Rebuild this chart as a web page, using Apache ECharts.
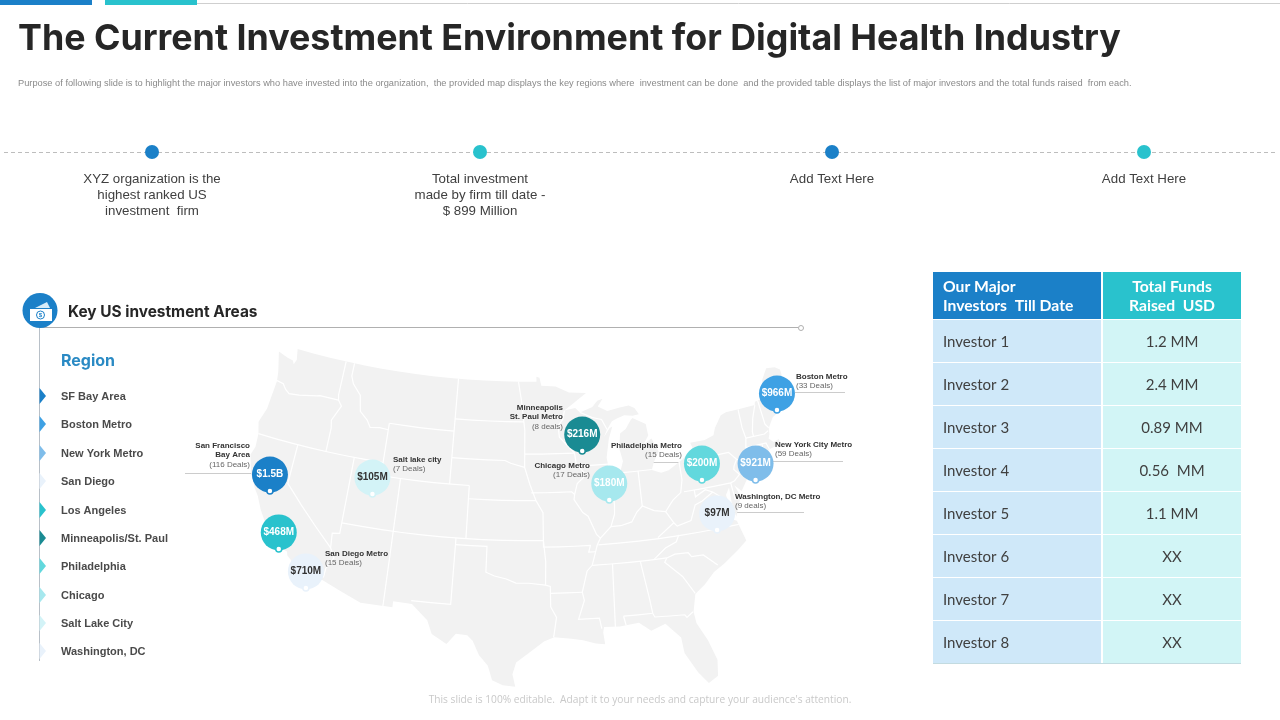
<!DOCTYPE html>
<html>
<head>
<meta charset="utf-8">
<title>Digital Health Investment</title>
<style>
  html, body { margin: 0; padding: 0; background: #fff; }
  #chart { width: 1280px; height: 720px; }
</style>
<script src="https://cdn.jsdelivr.net/npm/echarts@6/dist/echarts.min.js"></script>
</head>
<body>
<div id="chart"></div>
<script>
// --- slide data ---
var titleText = 'The Current Investment Environment for Digital Health Industry';
var subtitleText = 'Purpose of following slide is to highlight the major investors who have invested into the organization,  the provided map displays the key regions where  investment can be done  and the provided table displays the list of major investors and the total funds raised  from each.';
var footerText = "This slide is 100% editable.  Adapt it to your needs and capture your audience's attention.";
var timelineTexts = [
  'XYZ organization is the\nhighest ranked US\ninvestment  firm',
  'Total investment\nmade by firm till date -\n$ 899 Million',
  'Add Text Here',
  'Add Text Here'
];

var regionNames = ['SF Bay Area', 'Boston Metro', 'New York Metro', 'San Diego', 'Los Angeles',
  'Minneapolis/St. Paul', 'Philadelphia', 'Chicago', 'Salt Lake City', 'Washington, DC'];
var regionFunds = ['$1.5B', '$966M', '$921M', '$710M', '$468M', '$216M', '$200M', '$180M', '$105M', '$97M'];
var regionLon = [-121.5, -69.36, -73.32, -116.1, -119.3, -90.4, -78.55, -88.0, -111.6, -78.0];
var regionLat = [38.1, 44.19, 39.51, 31.66, 34.06, 43.62, 40.35, 39.79, 39.53, 36.46];
var regionColors = ['#1b80c8', '#3ea1e4', '#7fbdea', '#e9f2fb', '#29c2cd', '#1a8b93', '#62d8dd', '#a6e8ee', '#d3f3f7', '#e9f2fb'];
var darkLabelRegions = ['San Diego', 'Salt Lake City', 'Washington, DC'];

var calloutNames = ['San Francisco\nBay Area', 'Boston Metro', 'New York City Metro', 'San Diego Metro',
  'Minneapolis\nSt. Paul Metro', 'Philadelphia Metro', 'Chicago Metro', 'Salt lake city', 'Washington, DC Metro'];
var calloutDeals = ['(116 Deals)', '(33 Deals)', '(59 Deals)', '(15 Deals)', '(8 deals)', '(15 Deals)', '(17 Deals)', '(7 Deals)', '(9 deals)'];

var tableHeaders = ['Our Major\nInvestors  Till Date', 'Total Funds\nRaised  USD'];
var investors = ['Investor 1', 'Investor 2', 'Investor 3', 'Investor 4', 'Investor 5', 'Investor 6', 'Investor 7', 'Investor 8'];
var investorFunds = ['1.2 MM', '2.4 MM', '0.89 MM', '0.56  MM', '1.1 MM', 'XX', 'XX', 'XX'];

// lower 48 outline, lon/lat
var usaOutline = [[-124.7,48.4],[-123.6,48.15],[-122.9,48.05],[-122.7,47.8],[-122.5,48.2],[-122.75,49],[-95.15,49],[-95.15,49.38],[-94.8,49.3],[-94.6,48.7],[-93,48.6],[-91.5,48.1],[-89.6,48],
  [-92.1,46.75],[-90.9,46.9],[-90.4,46.55],[-89,46.9],[-88.4,47.35],[-87.8,47.47],[-88.4,46.9],[-87.4,46.5],[-86,46.67],[-85,46.75],[-84.4,46.5],[-84,46],[-84.7,45.95],[-85.6,46.05],[-86.5,45.85],[-87,45.7],[-87.6,45.1],[-88,44.55],[-87.3,45.2],[-87,45.3],[-87.5,44.4],[-87.9,43],[-87.8,42.3],[-87.55,41.75],[-87.2,41.65],[-86.6,41.9],[-86.25,42.6],[-86.5,43.6],[-86.25,44.7],[-85.6,45],[-85,45.6],[-84.75,45.78],[-83.4,45.2],[-83.3,44.3],[-83.9,43.7],[-83,44.05],[-82.45,43],[-83.1,42.25],[-83.4,41.7],[-82.5,41.4],[-81.7,41.5],[-80.1,42.15],[-78.9,42.85],[-79.05,43.27],[-77.5,43.28],[-76.5,43.5],[-76.2,44],[-75.3,44.85],[-74.7,45],[-71.5,45],[-71.4,45.25],[-70.85,45.3],[-70.3,45.9],[-70,46.7],[-69.23,47.46],[-68.3,47.35],[-67.8,47.07],[-67.8,45.7],[-67.45,45.3],[-67,44.85],[-68.5,44.3],[-70,43.75],[-70.7,43.05],[-70.8,42.6],[-71,42.3],[-70.6,41.95],[-70,42.05],[-69.95,41.7],[-71.2,41.5],[-71.9,41.3],[-73.65,40.95],[-72.3,41.15],[-71.9,41.05],[-73.9,40.55],[-74,40.4],[-74.1,39.75],[-74.9,38.95],[-75.5,39.5],[-75.1,38.6],[-75.95,37.15],[-76.1,38.3],[-76.05,39.4],[-76.5,38.9],[-76.35,38],[-76.3,37],[-75.98,36.85],[-75.5,35.25],[-76.5,34.65],[-77.9,33.9],[-79,33.4],[-80,32.6],[-81,32],[-81.4,30.7],[-81.3,29.8],[-80.55,28.4],[-80.03,26.8],[-80.2,25.6],[-81.05,25.15],[-81.8,26.1],[-82.7,27.7],[-82.8,28.9],[-84,30.1],[-85.3,29.7],[-86.3,30.4],[-88,30.25],[-89.4,30.3],[-89.5,29.9],[-89.4,29],[-90.2,29.1],[-91.3,29.4],[-92.3,29.55],[-93.8,29.7],[-94.7,29.4],[-95.9,28.6],[-97.1,27.8],[-97.4,26.9],[-97.15,25.95],[-98.2,26.05],[-99.1,26.4],[-99.5,27.5],[-100.3,28.3],[-100.9,29.35],[-101.4,29.75],[-102.4,29.8],[-103.15,28.98],[-104.5,29.65],[-105,30.65],[-106.5,31.75],[-108.2,31.78],[-108.2,31.33],[-111.07,31.33],[-114.8,32.5],[-117.12,32.53],[-117.3,33],[-118.4,33.75],[-118.5,34.02],[-119.2,34.15],[-120.6,34.55],[-120.7,35.2],[-121.9,36.6],[-122.5,37.5],[-123,38],[-123.75,39],[-124.35,40.3],[-124.1,41],[-124.2,42],[-124.55,42.85],[-124.1,44],[-123.95,46.2],[-124.1,46.9],[-124.7,48.4]];

// state borders, lon/lat
var stateBorders = [
  [[-124,46.25],[-123.2,46.15],[-122.8,45.8],[-122.3,45.55],[-121.2,45.65],[-119.3,45.93],[-119,46],[-116.92,46]],
  [[-117.03,49],[-117.04,46.4],[-116.92,46],[-116.47,45.6],[-117.2,44.4],[-117.03,43.8],[-117.03,42]],
  [[-124.2,42],[-111.05,42]],
  [[-116.05,49],[-116.05,48],[-115.7,47.45],[-114.7,46.7],[-114.35,45.5],[-113.45,44.95],[-113,44.45],[-112,44.55],[-111.05,44.5]],
  [[-111.05,45],[-111.05,41]],
  [[-111.05,45],[-104.05,45]],
  [[-111.05,41],[-102.05,41]],
  [[-104.05,49],[-104.05,41]],
  [[-104.05,45.94],[-96.56,45.94]],
  [[-104.05,43],[-98.5,43],[-97.9,42.8],[-96.45,42.5]],
  [[-102.05,41],[-102.05,37]],
  [[-102.05,40],[-95.3,40]],
  [[-120,42],[-120,39],[-114.63,35],[-114.15,34.3],[-114.7,33.4],[-114.75,32.7]],
  [[-114.63,35],[-114.75,36.1],[-114.05,36.2],[-114.05,42]],
  [[-114.05,37],[-94.62,37]],
  [[-109.05,41],[-109.05,31.33]],
  [[-103,37],[-103.04,32],[-106.6,32]],
  [[-103,36.5],[-100,36.5],[-100,34.56],[-99.2,34.3],[-98.1,34.1],[-97.2,33.8],[-96,33.8],[-94.5,33.65],[-94.05,33.55],[-94.05,32],[-93.55,31.2],[-93.75,30.2],[-93.85,29.7]],
  [[-94.62,37],[-94.43,35.4],[-94.48,33.64]],
  [[-94.05,33.02],[-91.15,33.02]],
  [[-95.3,40],[-94.62,39.1],[-94.62,36.5],[-90.15,36.5],[-90.35,36],[-89.7,36]],
  [[-97.2,49],[-96.85,47.6],[-96.56,45.94],[-96.45,45.3],[-96.45,42.5],[-95.9,41.2],[-95.3,40]],
  [[-96.45,43.5],[-91.22,43.5]],
  [[-95.77,40.58],[-91.7,40.6],[-91.42,40.38]],
  [[-92.1,46.75],[-92.3,46.1],[-92.85,45.6],[-92.75,44.75],[-91.22,43.5],[-91.1,42.7],[-90.15,41.8],[-91.1,41.2],[-91.42,40.38],[-91.5,40],[-90.7,39],[-90.2,38.7],[-89.5,37.3],[-89.15,37],[-89.5,36.5],[-89.7,36],[-90.1,35],[-90.6,34.6],[-91.15,33.02],[-91,32.4],[-91.6,31],[-89.75,31],[-89.6,30.2]],
  [[-90.65,42.5],[-87.8,42.5]],
  [[-90.4,46.55],[-89.1,46.1],[-88.1,45.9],[-87.6,45.1]],
  [[-87.53,41.7],[-87.53,39.35],[-87.6,38.7],[-88.05,37.8]],
  [[-89.15,37],[-88.05,37.8],[-87.1,37.8],[-86,38],[-85.4,38.7],[-84.8,39.1],[-83.7,38.65],[-82.6,38.45],[-82,39],[-81.7,39.25],[-80.85,39.7],[-80.52,40.64],[-80.52,41.98]],
  [[-84.81,39.1],[-84.81,41.76]],
  [[-87,41.76],[-83.4,41.73]],
  [[-79.76,42.27],[-79.76,42],[-75.35,42],[-74.7,41.36],[-75.1,40.9],[-75.2,40.65],[-74.75,40.2],[-75.4,39.8]],
  [[-74.7,41.36],[-73.9,41]],
  [[-80.52,39.72],[-75.79,39.72],[-75.4,39.8]],
  [[-75.79,39.72],[-75.7,38.46],[-75.05,38.45]],
  [[-79.48,39.72],[-79.48,39.2],[-78.4,39.6],[-77.72,39.32],[-77.1,38.9],[-77.3,38.4],[-76.3,38]],
  [[-77.72,39.32],[-78.9,38.8],[-79.65,38.6],[-80.3,37.5],[-81.7,37.25],[-81.97,37.54],[-82.6,38.45]],
  [[-81.97,37.54],[-83.68,36.6]],
  [[-75.87,36.55],[-89.4,36.5]],
  [[-81.68,36.59],[-82,36.1],[-83.1,35.75],[-84.32,35]],
  [[-90.1,35],[-83.1,35],[-82.3,35.2],[-81.05,35.15],[-80.8,34.82],[-79.7,34.8],[-78.55,33.86]],
  [[-88.2,35],[-88.4,30.25]],
  [[-85.6,35],[-85.15,32.2],[-85,31],[-84.86,30.7],[-82.2,30.57],[-82.05,30.35],[-81.45,30.7]],
  [[-87.6,31],[-85,31]],
  [[-87.6,31],[-87.45,30.3]],
  [[-83.1,35],[-83.35,34.7],[-81.9,33.45],[-81,32.05]],
  [[-73.35,45],[-73.4,43.6],[-73.27,42.75],[-73.5,42.05],[-73.5,41.3],[-73.65,41]],
  [[-73.27,42.75],[-71.3,42.7],[-70.82,42.87]],
  [[-73.5,42.05],[-71.38,42.02],[-71.2,41.5]],
  [[-71.8,42.02],[-71.85,41.32]],
  [[-71.5,45],[-72.05,44.1],[-72.45,43.1],[-72.46,42.73]],
  [[-71.08,45.3],[-70.98,43.4],[-70.7,43.07]]
];

// --- albers projection, fitted to the slide ---
var rad = Math.PI / 180;
var albersN = (Math.sin(29.5 * rad) + Math.sin(45.5 * rad)) / 2;
var albersC = Math.pow(Math.cos(29.5 * rad), 2) + 2 * albersN * Math.sin(29.5 * rad);
var albersRho0 = Math.sqrt(albersC - 2 * albersN * Math.sin(37.5 * rad)) / albersN;
var mapScale = 756, mapX = 529, mapY = 534;

function project(p) {
  var rho = Math.sqrt(albersC - 2 * albersN * Math.sin(p[1] * rad)) / albersN;
  var theta = albersN * (p[0] + 96) * rad;
  return [mapX + mapScale * rho * Math.sin(theta), mapY - mapScale * (albersRho0 - rho * Math.cos(theta))];
}
function unproject(p) {
  var x = (p[0] - mapX) / mapScale, d = albersRho0 - (mapY - p[1]) / mapScale;
  var rho = Math.sqrt(x * x + d * d);
  return [Math.atan2(x, d) / albersN / rad - 96,
    Math.asin((albersC - Math.pow(rho * albersN, 2)) / (2 * albersN)) / rad];
}
// long borders follow the conic curve, so split them up
function curved(line) {
  var out = [line[0]];
  for (var i = 1; i < line.length; i++) {
    var a = line[i - 1], b = line[i];
    var steps = Math.ceil(Math.abs(b[0] - a[0]) / 2) || 1;
    for (var s = 1; s <= steps; s++) {
      out.push([a[0] + (b[0] - a[0]) * s / steps, a[1] + (b[1] - a[1]) * s / steps]);
    }
  }
  return out;
}

var outline = curved(usaOutline);
var px = outline.map(project);
var xs = px.map(function (p) { return p[0]; }), ys = px.map(function (p) { return p[1]; });
var box = { left: Math.min.apply(null, xs), top: Math.min.apply(null, ys), right: Math.max.apply(null, xs), bottom: Math.max.apply(null, ys) };

echarts.registerMap('usa', {
  type: 'FeatureCollection',
  features: [{ type: 'Feature', properties: { name: 'USA' }, geometry: { type: 'Polygon', coordinates: [outline] } }]
});

// --- graphic helpers ---
var arial = '"Liberation Sans", Arial, sans-serif';
var lato = 'Lato, sans-serif';
var graphics = [];

function rect(x, y, w, h, fill) {
  graphics.push({ type: 'rect', silent: true, shape: { x: x, y: y, width: w, height: h }, style: { fill: fill } });
}
function line(x1, y1, x2, y2, color, dash) {
  graphics.push({ type: 'line', silent: true, shape: { x1: x1, y1: y1, x2: x2, y2: y2 },
    style: { stroke: color, lineWidth: 1, lineDash: dash || null } });
}
function circle(x, y, r, fill, stroke) {
  graphics.push({ type: 'circle', silent: true, shape: { cx: x, cy: y, r: r }, style: { fill: fill, stroke: stroke || null } });
}
function text(x, y, str, font, color, align, lh, vAlign) {
  graphics.push({ type: 'text', silent: true, x: x, y: y, z: 10, style: { text: str, font: font, fill: color,
    align: align || 'left', verticalAlign: vAlign || 'middle', lineHeight: lh || undefined } });
}

// top bars
rect(0, 0, 92, 5, '#1b80c8');
rect(105, 0, 92, 5, '#29c2cd');
line(197, 3.5, 1280, 3.5, '#cfcfcf');

text(18, 39.5, titleText, 'bold 35.8px Inter, sans-serif', '#262626');
text(18, 83, subtitleText, '9.27px ' + arial, '#8a8a8a');
text(640, 700.5, footerText, '10.2px "Open Sans", sans-serif', '#c9c9c9', 'center');

// timeline
line(4, 152.5, 1277, 152.5, '#bdbdbd', [4, 3]);
var timelineX = [152, 480, 832, 1144];
var timelineColors = ['#1b80c8', '#29c2cd', '#1b80c8', '#29c2cd'];
timelineTexts.forEach(function (t, i) {
  circle(timelineX[i], 152, 7, timelineColors[i]);
  text(timelineX[i], 171, t, '13.3px ' + arial, '#404040', 'center', 16, 'top');
});

// section heading
line(40, 327.5, 798, 327.5, '#b0b0b0');
circle(801, 328, 2.5, '#fff', '#b0b0b0');
line(39.5, 327, 39.5, 661, '#b8c0c8');
circle(40, 310.5, 17.5, '#1b80c8');
graphics.push({ type: 'polygon', silent: true, shape: { points: [[35, 308], [47, 302], [50, 308]] }, style: { fill: '#d6ecf9' } });
rect(30, 309, 22, 12, '#fff');
circle(40.5, 315, 4, '#fff', '#1b80c8');
text(40.5, 315, '$', 'bold 6px ' + arial, '#1b80c8', 'center');
text(68, 312, 'Key US investment Areas', 'bold 15.4px Inter, sans-serif', '#262626');
text(61, 361, 'Region', 'bold 16px Inter, sans-serif', '#2a8ac4');

// region list with the coloured pointers
var listY = [396, 424, 453, 481, 510, 538, 566, 595, 623, 651];
regionNames.forEach(function (name, i) {
  graphics.push({ type: 'polygon', silent: true, z: 5, shape: { points: [[39.5, listY[i] - 8], [46, listY[i]], [39.5, listY[i] + 8]] }, style: { fill: regionColors[i] } });
  text(61, listY[i] + 1, name, 'bold 11px ' + arial, '#4a4a4a');
});

// callouts: [anchor x, align, name y, deals y, rule x1, rule x2, rule y]
var calloutLayout = [
  [250, 'right', 446, 465, 185, 252, 473],
  [796, 'left', 377, 386, 795, 845, 392],
  [775, 'left', 445, 454, 772, 843, 461],
  [325, 'left', 554, 563, 322, 381, 569],
  [563, 'right', 408, 427, 515, 565, 433],
  [682, 'right', 446, 455, 623, 685, 462],
  [590, 'right', 466, 475, 533, 592, 482],
  [393, 'left', 460, 469, 390, 438, 476],
  [735, 'left', 497, 506, 733, 804, 512]
];
calloutNames.forEach(function (name, i) {
  var c = calloutLayout[i];
  line(c[4], c[6] + 0.5, c[5], c[6] + 0.5, '#cccccc');
  name.split('\n').forEach(function (part, k) {
    text(c[0], c[2] + k * 9, part, 'bold 8px ' + arial, '#333333', c[1]);
  });
  text(c[0], c[3], calloutDeals[i], '8px ' + arial, '#666666', c[1]);
});

// investors table
var col1 = 933, col1W = 168, col2 = 1103, col2W = 138, rowH = 43, rowTop = 320;
rect(col1, 272, col1W, 47, '#1b80c8');
rect(col2, 272, col2W, 47, '#29c2cd');
text(col1 + 10, 296, tableHeaders[0], 'bold 15.7px ' + lato, '#fff', 'left', 19);
text(col2 + col2W / 2, 296, tableHeaders[1], 'bold 15.7px ' + lato, '#fff', 'center', 19);
investors.forEach(function (name, i) {
  var y = rowTop + i * rowH;
  rect(col1, y, col1W, rowH - 1, '#cfe8f9');
  rect(col2, y, col2W, rowH - 1, '#d2f5f6');
  text(col1 + 10, y + 22, name, '15px ' + lato, '#404040');
  text(col2 + col2W / 2, y + 22, investorFunds[i], '15px ' + lato, '#404040', 'center');
});
line(col1, 663.5, col2 + col2W, 663.5, '#c3dbe0');

// --- chart ---
var bubbleData = regionNames.map(function (name, i) {
  return {
    name: name,
    value: [regionLon[i], regionLat[i]],
    funds: regionFunds[i],
    itemStyle: { color: regionColors[i], opacity: 1 },
    label: { color: darkLabelRegions.indexOf(name) >= 0 ? '#333333' : '#ffffff' }
  };
});
var pinData = regionNames.map(function (name, i) {
  return {
    name: name,
    value: [regionLon[i], regionLat[i]],
    itemStyle: { color: '#fff', borderColor: regionColors[i], borderWidth: 1.5, opacity: 1 }
  };
});

var chart = echarts.init(document.getElementById('chart'));
chart.setOption({
  animation: false,
  backgroundColor: '#fff',
  graphic: graphics,
  geo: {
    map: 'usa',
    roam: false,
    silent: true,
    projection: { project: project, unproject: unproject },
    left: box.left,
    top: box.top,
    width: box.right - box.left,
    height: box.bottom - box.top,
    label: { show: false },
    itemStyle: { areaColor: '#f2f2f2', borderWidth: 0, borderColor: '#f2f2f2' }
  },
  series: [
    {
      type: 'lines',
      coordinateSystem: 'geo',
      polyline: true,
      silent: true,
      data: stateBorders.map(function (b) { return { coords: curved(b) }; }),
      lineStyle: { color: '#ffffff', width: 1.2, opacity: 1, curveness: 0 },
      z: 2
    },
    {
      type: 'scatter',
      coordinateSystem: 'geo',
      silent: true,
      symbolSize: 36,
      symbolOffset: [0, -16.5],
      data: bubbleData,
      label: {
        show: true,
        position: 'inside',
        fontFamily: '"Liberation Sans", Arial, sans-serif',
        fontWeight: 'bold',
        fontSize: 10,
        formatter: function (p) { return p.data.funds; },
        textBorderWidth: 0
      },
      z: 3
    },
    {
      type: 'scatter',
      coordinateSystem: 'geo',
      silent: true,
      symbolSize: 6,
      data: pinData,
      z: 4
    }
  ]
});
</script>
</body>
</html>
